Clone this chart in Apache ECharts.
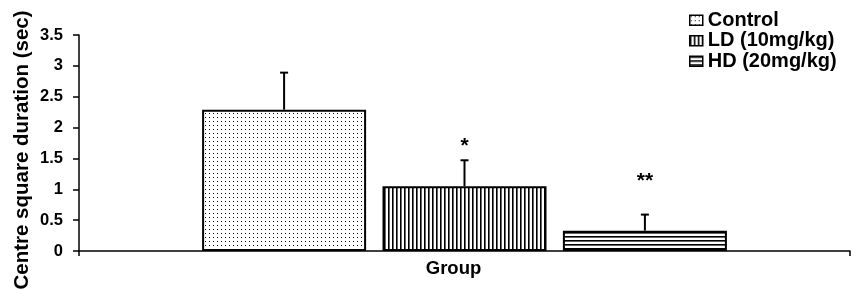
<!DOCTYPE html>
<html>
<head>
<meta charset="utf-8">
<script src="https://cdn.jsdelivr.net/npm/echarts@6/dist/echarts.min.js"></script>
<style>
  html, body { margin: 0; padding: 0; background: #fff; }
  #chart { width: 866px; height: 305px; }
</style>
</head>
<body>
<div id="chart"></div>
<script>
// ---- data ----
const categories = ['Group'];
const seriesNames = ['Control', 'LD (10mg/kg)', 'HD (20mg/kg)'];
const meanValues = [2.29, 1.05, 0.33];
const errorValues = [0.60, 0.42, 0.26];
const significance = ['', '*', '**'];
const yTicks = [0, 0.5, 1, 1.5, 2, 2.5, 3, 3.5];

// ---- layout / style ----
const FONT = '"Liberation Sans", Arial, sans-serif';
const BAR_W = 164;
const BAR_GAP = 0.1;
const STAR_LIFT = [0, 14, 33];

// small repeating tiles used as hatch fills
function makeTile(w, h, draw) {
  const c = document.createElement('canvas');
  c.width = w; c.height = h;
  const g = c.getContext('2d');
  g.fillStyle = '#fff';
  g.fillRect(0, 0, w, h);
  g.fillStyle = '#000';
  draw(g);
  return c;
}
const fills = [
  { image: makeTile(4, 4, g => g.fillRect(1, 1, 1, 1)), repeat: 'repeat' },
  { image: makeTile(4, 4, g => g.fillRect(0, 0, 1.6, 4)), repeat: 'repeat' },
  { image: makeTile(4, 4, g => g.fillRect(0, 0, 4, 1.6)), repeat: 'repeat' }
];

const chart = echarts.init(document.getElementById('chart'), null, { renderer: 'canvas' });

const barSeries = seriesNames.map((name, i) => ({
  name,
  type: 'bar',
  barWidth: BAR_W,
  barGap: (BAR_GAP * 100) + '%',
  data: [meanValues[i]],
  itemStyle: { color: fills[i], borderColor: '#000', borderWidth: 2 },
  emphasis: { disabled: true },
  z: 2
}));

const errorSeries = {
  type: 'custom',
  z: 5,
  silent: true,
  encode: { x: 0, y: [1, 2] },
  data: seriesNames.map((n, i) => [0, meanValues[i], meanValues[i] + errorValues[i], i]),
  renderItem(params, api) {
    const i = api.value(3);
    const base = api.coord([0, api.value(1)]);
    const top = api.coord([0, api.value(2)]);
    const x = base[0] + (i - 1) * BAR_W * (1 + BAR_GAP);
    const children = [
      { type: 'line', shape: { x1: x, y1: base[1], x2: x, y2: top[1] },
        style: { stroke: '#000', lineWidth: 2 } },
      { type: 'line', shape: { x1: x - 4, y1: top[1], x2: x + 4, y2: top[1] },
        style: { stroke: '#000', lineWidth: 2 } }
    ];
    if (significance[i]) {
      children.push({
        type: 'text', x: x, y: top[1] - STAR_LIFT[i],
        style: { text: significance[i], font: 'bold 21px ' + FONT, fill: '#000',
                 align: 'center', verticalAlign: 'middle' }
      });
    }
    return { type: 'group', children };
  }
};

chart.setOption({
  animation: false,
  backgroundColor: '#fff',
  grid: { left: 79, right: 16, top: 35, bottom: 54, containLabel: false },
  legend: {
    orient: 'vertical',
    left: 684, top: 5,
    padding: 5,
    itemWidth: 13, itemHeight: 10, itemGap: 0,
    icon: 'rect',
    selectedMode: false,
    data: seriesNames,
    itemStyle: { borderColor: '#000', borderWidth: 1.5 },
    textStyle: { fontFamily: FONT, fontWeight: 'bold', fontSize: 20, color: '#000', lineHeight: 20.5 }
  },
  xAxis: {
    type: 'category',
    data: categories,
    axisLine: { lineStyle: { color: '#000', width: 1.5 } },
    axisTick: { show: true, length: 5, lineStyle: { color: '#000', width: 1.5 } },
    axisLabel: { fontFamily: FONT, fontWeight: 'bold', fontSize: 18.5, color: '#000', margin: 8,
                 padding: [0, 22, 0, 0] },
    splitLine: { show: false }
  },
  yAxis: {
    type: 'value',
    min: yTicks[0],
    max: yTicks[yTicks.length - 1],
    interval: yTicks[1] - yTicks[0],
    axisLine: { show: true, lineStyle: { color: '#000', width: 1.5 } },
    axisTick: { show: true, length: 6, lineStyle: { color: '#000', width: 1.5 } },
    axisLabel: { fontFamily: FONT, fontWeight: 'bold', fontSize: 16.5, color: '#000', margin: 16,
                 formatter: v => String(v) },
    splitLine: { show: false }
  },
  graphic: [{
    type: 'text',
    x: 22, y: 150,
    rotation: Math.PI / 2,
    style: { text: 'Centre square duration (sec)', font: 'bold 20.5px ' + FONT, fill: '#000',
             align: 'center', verticalAlign: 'middle' }
  }],
  series: [...barSeries, errorSeries]
});
</script>
</body>
</html>
